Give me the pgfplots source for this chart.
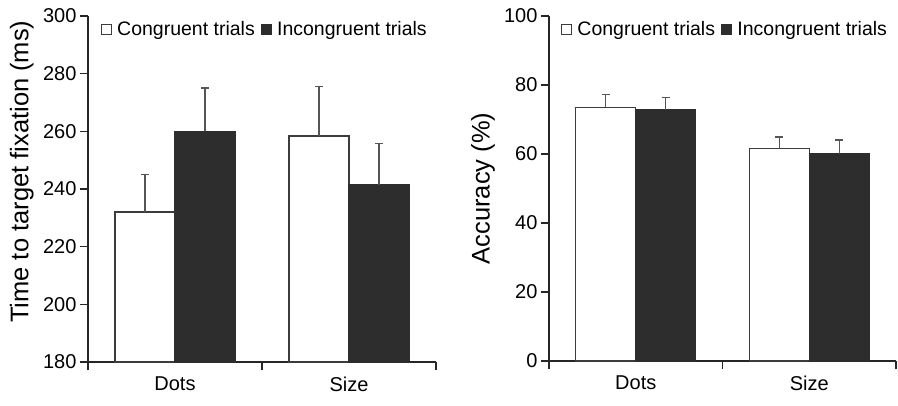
\documentclass[border=0pt]{standalone}
\usepackage{fontspec}
\setmainfont{Liberation Sans}
\usepackage{pgfplots}
\pgfplotsset{compat=1.18}
\definecolor{barDark}{RGB}{45,45,45}
\definecolor{edge}{RGB}{60,60,60}
\definecolor{errc}{RGB}{85,85,85}

\pgfplotsset{
  twopanel/.style={
    scale only axis,
    xmin=0, xmax=2,
    ybar=0pt,
    bar width=60pt,
    axis x line*=bottom,
    axis y line*=left,
    axis line style={-, draw=black!85, line width=1.4pt},
    tick align=outside,
    major tick length=8pt,
    tick style={draw=black!85, line width=1.4pt},
    xtick={0,1,2},
    xticklabels={},
    extra x ticks={0.5,1.5},
    extra x tick labels={Dots,Size},
    extra x tick style={major tick length=0pt,
      tick label style={font=\fontsize{20}{23}\selectfont, yshift=-11pt}},
    tick label style={font=\fontsize{20}{23}\selectfont},
    /pgf/number format/assume math mode=true,
    legend columns=2,
    legend style={draw=none, fill=none, inner sep=0pt, outer sep=0pt,
      anchor=west, font=\fontsize{19.5}{22}\selectfont,
      /tikz/every even column/.append style={column sep=4pt}},
    legend image code/.code={\draw[##1,line width=1.2pt] (0pt,-5pt) rectangle (10pt,5pt); \path (13pt,0pt);},
    error bars/y dir=plus,
    error bars/y explicit,
    error bars/error bar style={draw=errc, line width=1.4pt},
    error bars/error mark options={rotate=90, draw=errc, line width=1.4pt, mark size=3.8pt},
  },
  cong/.style={draw=edge, line width=1.4pt, fill=white},
  incong/.style={draw=barDark, line width=1.4pt, fill=barDark},
}

\begin{document}
\begin{tikzpicture}
\path[use as bounding box] (0pt,0pt) rectangle (898pt,405pt);

% left panel: time to target fixation
\begin{axis}[twopanel,
    at={(88pt,43pt)}, anchor=south west,
    width=348pt, height=346pt,
    ymin=180, ymax=300, ytick={180,200,...,300},
    ylabel={Time to target fixation (ms)},
    ylabel style={font=\fontsize{25.5}{28}\selectfont,
      at={(axis description cs:-0.19,0.55)}, anchor=center},
    legend style={at={(axis description cs:0.037,0.962)}},
]
\addplot[cong] coordinates {(0.5,232) +- (0,13) (1.5,258.4) +- (0,17.2)};
\addlegendentry{Congruent trials}
\addplot[incong] coordinates {(0.5,260) +- (0,15) (1.5,241.4) +- (0,14.3)};
\addlegendentry{Incongruent trials}
\end{axis}

% right panel: accuracy
\begin{axis}[twopanel,
    at={(549pt,44pt)}, anchor=south west,
    width=347pt, height=345pt,
    ymin=0, ymax=100, ytick={0,20,...,100},
    ylabel={Accuracy (\%)},
    ylabel style={font=\fontsize{25.5}{28}\selectfont,
      at={(axis description cs:-0.19,0.5)}, anchor=center},
    legend style={at={(axis description cs:0.035,0.962)}},
]
\addplot[cong] coordinates {(0.5,73.5) +- (0,3.7) (1.5,61.6) +- (0,3.3)};
\addlegendentry{Congruent trials}
\addplot[incong] coordinates {(0.5,72.7) +- (0,3.6) (1.5,60.0) +- (0,4.0)};
\addlegendentry{Incongruent trials}
\end{axis}
\end{tikzpicture}
\end{document}
